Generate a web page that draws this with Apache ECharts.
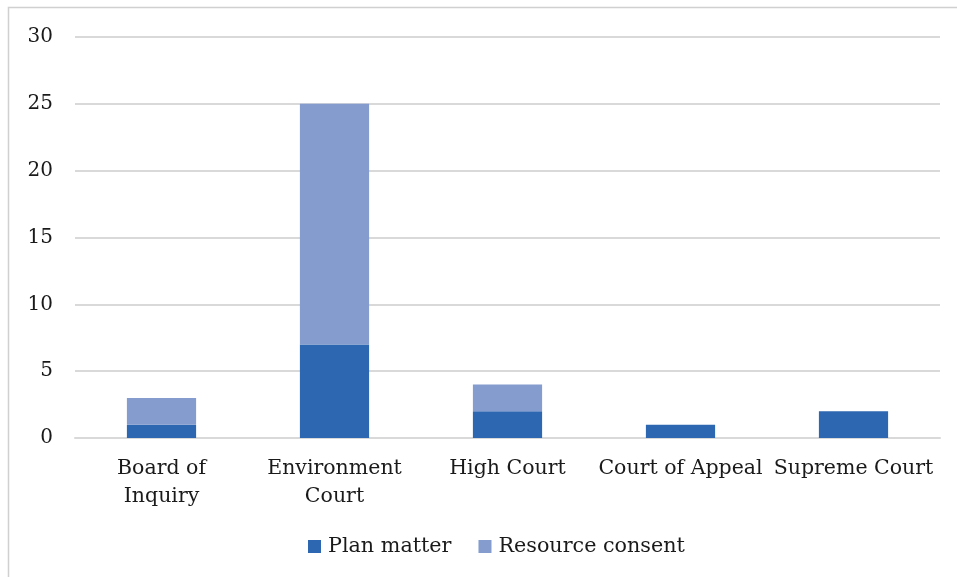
<!DOCTYPE html>
<html><head><meta charset="utf-8">
<script src="https://cdn.jsdelivr.net/npm/echarts@6/dist/echarts.min.js"></script>
<style>html,body{margin:0;padding:0;background:#fff}#c{width:957px;height:577px}</style>
</head><body><div id="c"></div>
<script>
const categories = ['Board of\nInquiry', 'Environment\nCourt', 'High Court', 'Court of Appeal', 'Supreme Court'];
const planMatter = [1, 7, 2, 1, 2];
const resourceConsent = [2, 18, 2, 0, 0];
const seriesNames = ['Plan matter', 'Resource consent'];
const yTicks = { min: 0, max: 30, interval: 5 };

const font = 'DejaVu Serif';
const chart = echarts.init(document.getElementById('c'));
chart.setOption({
  animation: false,
  textStyle: { fontFamily: font },
  graphic: [{ type: 'rect', shape: { x: 8.5, y: 7.5, width: 960, height: 600 }, style: { fill: null, stroke: '#d0d0d0', lineWidth: 1.5 }, silent: true }],
  grid: { left: 75, right: 17, top: 37, bottom: 139, containLabel: false },
  legend: {
    bottom: 15, left: 303, itemWidth: 13, itemHeight: 13, itemGap: 27,
    icon: 'rect',
    textStyle: { fontFamily: font, fontSize: 20.7, color: '#1a1a1a', padding: [0, 0, 0, 2] },
    data: seriesNames
  },
  xAxis: {
    type: 'category', data: categories,
    axisLine: { lineStyle: { color: '#d9d9d9', width: 2 } },
    axisTick: { show: false },
    axisLabel: { fontFamily: font, fontSize: 20.5, color: '#1a1a1a', lineHeight: 28, margin: 17, interval: 0 }
  },
  yAxis: {
    type: 'value', min: yTicks.min, max: yTicks.max, interval: yTicks.interval,
    axisLine: { show: false }, axisTick: { show: false },
    splitLine: { lineStyle: { color: '#d9d9d9', width: 2 } },
    axisLabel: { fontFamily: font, fontSize: 20, color: '#1a1a1a', margin: 22, align: 'right' }
  },
  series: [
    { name: seriesNames[0], type: 'bar', stack: 't', data: planMatter, barWidth: '40%', itemStyle: { color: '#2E67B1' } },
    { name: seriesNames[1], type: 'bar', stack: 't', data: resourceConsent, barWidth: '40%', itemStyle: { color: '#849CCE' } }
  ]
});
</script></body></html>
